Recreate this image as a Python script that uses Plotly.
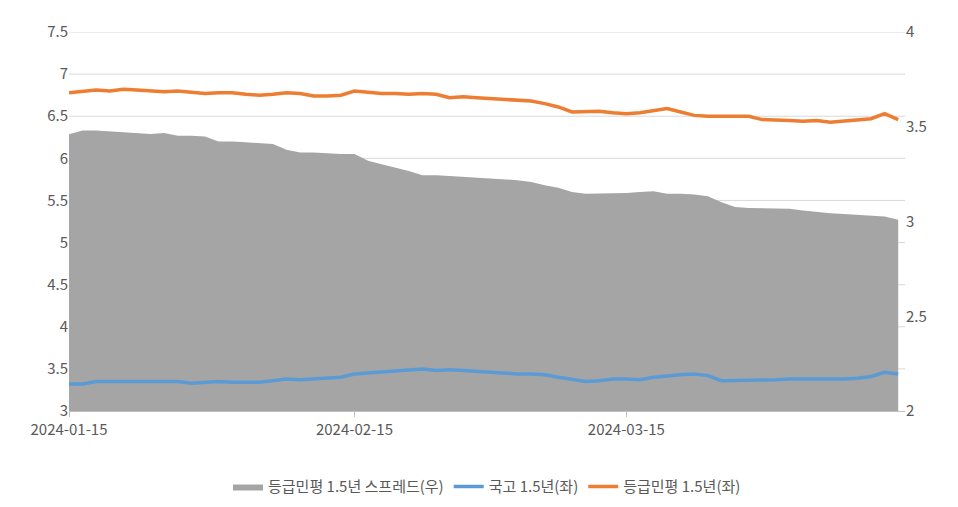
import plotly.graph_objects as go

# trading-day index; labelled ticks only
tick_pos = [0, 21, 41]
tick_text = ["2024-01-15", "2024-02-15", "2024-03-15"]
left_ticks = [3, 3.5, 4, 4.5, 5, 5.5, 6, 6.5, 7, 7.5]

spread = [3.46, 3.48, 3.48, 3.476, 3.471, 3.467, 3.462, 3.467, 3.453, 3.453, 3.449, 3.422,
          3.422, 3.418, 3.413, 3.409, 3.378, 3.364, 3.364, 3.36, 3.356, 3.356,
          3.32, 3.302, 3.284, 3.267, 3.244, 3.244, 3.24, 3.236, 3.231, 3.227,
          3.222, 3.218, 3.209, 3.191, 3.178, 3.156, 3.147, 3.147, 3.151, 3.151,
          3.156, 3.16, 3.147, 3.147, 3.142, 3.133, 3.102, 3.076, 3.071, 3.071,
          3.071, 3.067, 3.058, 3.049, 3.044, 3.04, 3.036, 3.031, 3.027, 3.009]
ktb = [3.32, 3.32, 3.35, 3.35, 3.35, 3.35, 3.35, 3.35, 3.35, 3.33, 3.34, 3.35,
       3.34, 3.34, 3.34, 3.36, 3.38, 3.37, 3.38, 3.39, 3.40, 3.44,
       3.45, 3.46, 3.47, 3.49, 3.50, 3.48, 3.49, 3.48, 3.47, 3.46,
       3.45, 3.44, 3.44, 3.43, 3.40, 3.38, 3.35, 3.36, 3.38, 3.38,
       3.37, 3.40, 3.42, 3.43, 3.44, 3.42, 3.36, 3.36, 3.36, 3.36,
       3.37, 3.38, 3.38, 3.37, 3.37, 3.38, 3.39, 3.41, 3.46, 3.44]
unrated = [6.78, 6.79, 6.81, 6.80, 6.82, 6.81, 6.80, 6.79, 6.80, 6.79, 6.77, 6.78,
           6.78, 6.76, 6.75, 6.76, 6.78, 6.77, 6.74, 6.74, 6.75, 6.80,
           6.78, 6.77, 6.77, 6.76, 6.77, 6.76, 6.72, 6.73, 6.72, 6.71,
           6.70, 6.70, 6.68, 6.65, 6.61, 6.55, 6.55, 6.56, 6.54, 6.53,
           6.54, 6.56, 6.59, 6.55, 6.51, 6.50, 6.50, 6.50, 6.50, 6.46,
           6.46, 6.45, 6.44, 6.45, 6.43, 6.44, 6.46, 6.47, 6.53, 6.46]

x = list(range(len(spread)))
FONT = "Noto Sans CJK KR, Noto Sans, sans-serif"

fig = go.Figure()
# area on the primary (right) axis so the lines on y2 sit above it
fig.add_trace(go.Scatter(x=x, y=spread, name="등급민평 1.5년 스프레드(우)",
                         mode="lines", fill="tozeroy", line=dict(color="#a5a5a5", width=0),
                         fillcolor="#a5a5a5"))
fig.add_trace(go.Scatter(x=x, y=ktb, yaxis="y2", name="국고 1.5년(좌)", mode="lines",
                         line=dict(color="#5b9bd5", width=3.5)))
fig.add_trace(go.Scatter(x=x, y=unrated, yaxis="y2", name="등급민평 1.5년(좌)", mode="lines",
                         line=dict(color="#ed7d31", width=3.5)))

# left-axis gridlines, drawn beneath everything
for v in left_ticks[1:]:
    fig.add_shape(type="line", xref="paper", x0=0, x1=1, yref="y2", y0=v, y1=v,
                  line=dict(color="#d9d9d9", width=1), layer="below")

fig.update_layout(
    width=958, height=507,
    margin=dict(l=61, r=61, t=22, b=102),
    paper_bgcolor="white", plot_bgcolor="white",
    font=dict(family=FONT, size=15, color="#595959"),
    showlegend=True,
    legend=dict(orientation="h", x=0.5, xanchor="center", y=-0.2, yanchor="middle",
                font=dict(size=15, color="#595959"), traceorder="normal"),
    xaxis=dict(range=[0, 61.5], tickvals=tick_pos, ticktext=tick_text,
               showline=True, linecolor="#bfbfbf", ticks="outside", ticklen=5,
               tickcolor="#bfbfbf", showgrid=False, zeroline=False),
    yaxis=dict(range=[2, 4], tickvals=[2, 2.5, 3, 3.5, 4], ticktext=["2", "2.5", "3", "3.5", "4"],
               side="right", showgrid=False, zeroline=False),
    yaxis2=dict(range=[3, 7.5], tickvals=left_ticks, ticktext=[f"{v:g}" for v in left_ticks],
                overlaying="y", side="left", showgrid=False, zeroline=False),
)

fig.write_html("out.html")
